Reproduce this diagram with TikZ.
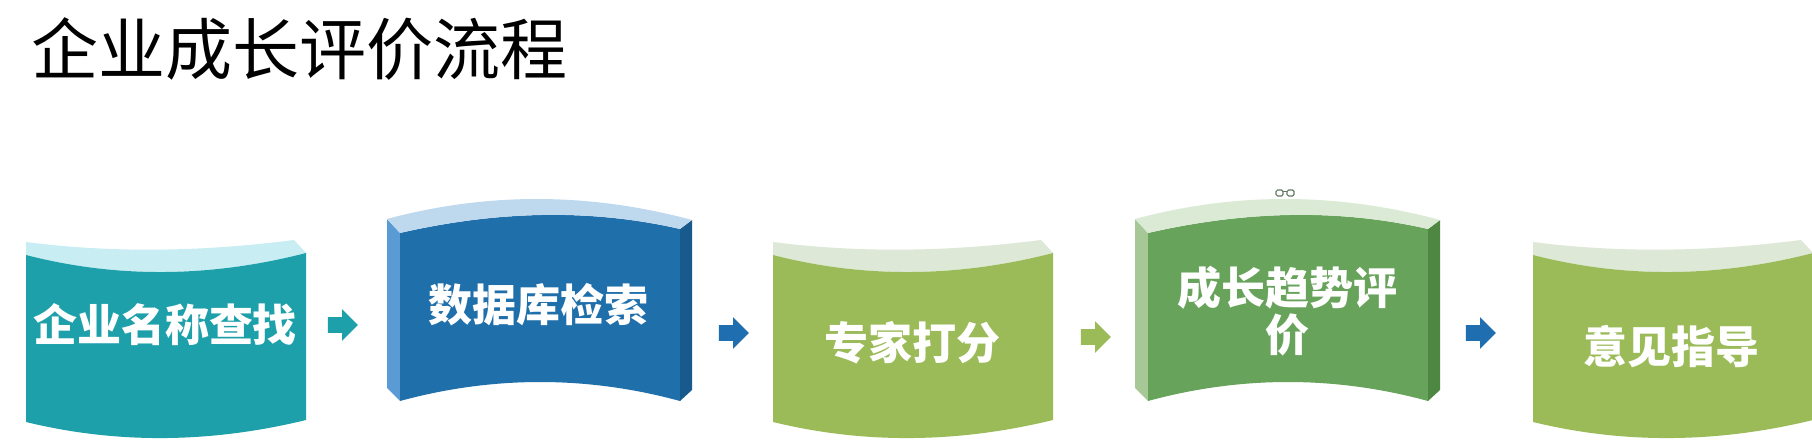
\documentclass[tikz,border=0pt]{standalone}
\usepackage{fontspec}
\newfontfamily\cjk{Noto Sans CJK SC}
\usetikzlibrary{shapes.arrows}
\definecolor{tealF}{RGB}{30,160,170}
\definecolor{tealB}{RGB}{200,238,243}
\definecolor{blueF}{RGB}{31,111,171}
\definecolor{blueL}{RGB}{91,155,213}
\definecolor{blueR}{RGB}{24,90,140}
\definecolor{blueB}{RGB}{190,216,238}
\definecolor{oliveF}{RGB}{155,187,89}
\definecolor{oliveB}{RGB}{221,232,214}
\definecolor{greenF}{RGB}{104,163,92}
\definecolor{greenL}{RGB}{165,200,150}
\definecolor{greenR}{RGB}{78,135,66}
\definecolor{greenB}{RGB}{218,234,212}
\definecolor{arrBlue}{RGB}{31,111,176}
\definecolor{glassC}{RGB}{100,120,100}
\newcommand\sagshape[3]{%
  \begin{scope}[shift={(#1,0)}]
    \fill[#3] (0,242) .. controls (89,253.5) and (178,251.5) .. (268,240) -- (280,253)
      .. controls (187,277) and (93,279) .. (0,255) -- cycle;
    \fill[#2] (0,255) .. controls (93,279) and (187,277) .. (280,253) -- (280,420)
      .. controls (187,442.7) and (93,444.7) .. (0,422) -- cycle;
  \end{scope}}
\newcommand\archshape[5]{%
  \begin{scope}[shift={(#1,0)}]
    \fill[#3] (0,219) -- (13,233) -- (13,401) -- (0,388) -- cycle;
    \fill[#2] (13,233) .. controls (106,211.7) and (200,207.7) .. (293,229) -- (293,401)
      .. controls (200,375.7) and (106,375.7) .. (13,401) -- cycle;
    \fill[#4] (293,229) -- (305,220) -- (305,390) -- (293,401) -- cycle;
    \fill[#5] (0,219) .. controls (102,191.7) and (203,192.7) .. (305,220) -- (293,229)
      .. controls (200,207.7) and (106,211.7) .. (13,233) -- cycle;
  \end{scope}}
\begin{document}
\begin{tikzpicture}[x=0.5pt,y=-0.5pt,
  lbl/.style={font=\cjk\bfseries\fontsize{22}{23.5}\selectfont, text=white, align=center, inner sep=0pt},
  blockarrow/.style={single arrow, draw=none, inner xsep=0pt, inner ysep=3.75pt, minimum height=15pt,
    single arrow head extend=4pt}]
\useasboundingbox (0,0) rectangle (1812,442);
\clip (0,0) rectangle (1812,442);
\fill[white] (0,0) rectangle (1812,442);
% title
\node[anchor=base west, inner sep=0pt, font=\cjk\fontsize{33.5}{36}\selectfont] (title) at (31,75) {企业成长评价流程};
% boxes
\sagshape{26}{tealF}{tealB}
\archshape{387}{blueF}{blueL}{blueR}{blueB}
\sagshape{773}{oliveF}{oliveB}
\archshape{1135}{greenF}{greenL}{greenR}{greenB}
\sagshape{1533}{oliveF}{oliveB}
% glasses icon
\draw[glassC, line width=0.6pt, rounded corners=0.8pt] (1276,190) rectangle (1283,196) (1287,190) rectangle (1294,196);
\draw[glassC, line width=0.6pt] (1283,191.5) -- (1287,191.5);
% labels
\node[lbl] (b1) at (165,325) {企业名称查找};
\node[lbl] (b2) at (538,305) {数据库检索};
\node[lbl] (b3) at (912,343) {专家打分};
\node[lbl] (b4) at (1287,311) {成长趋势评\\价};
\node[lbl] (b5) at (1671,347) {意见指导};
% arrows
\node[blockarrow, fill=tealF] (a1) at (339,325) {};
\node[blockarrow, fill=arrBlue] (a2) at (730,333) {};
\node[blockarrow, fill=oliveF] (a3) at (1092,337) {};
\node[blockarrow, fill=arrBlue] (a4) at (1477,333) {};
\end{tikzpicture}
\end{document}
